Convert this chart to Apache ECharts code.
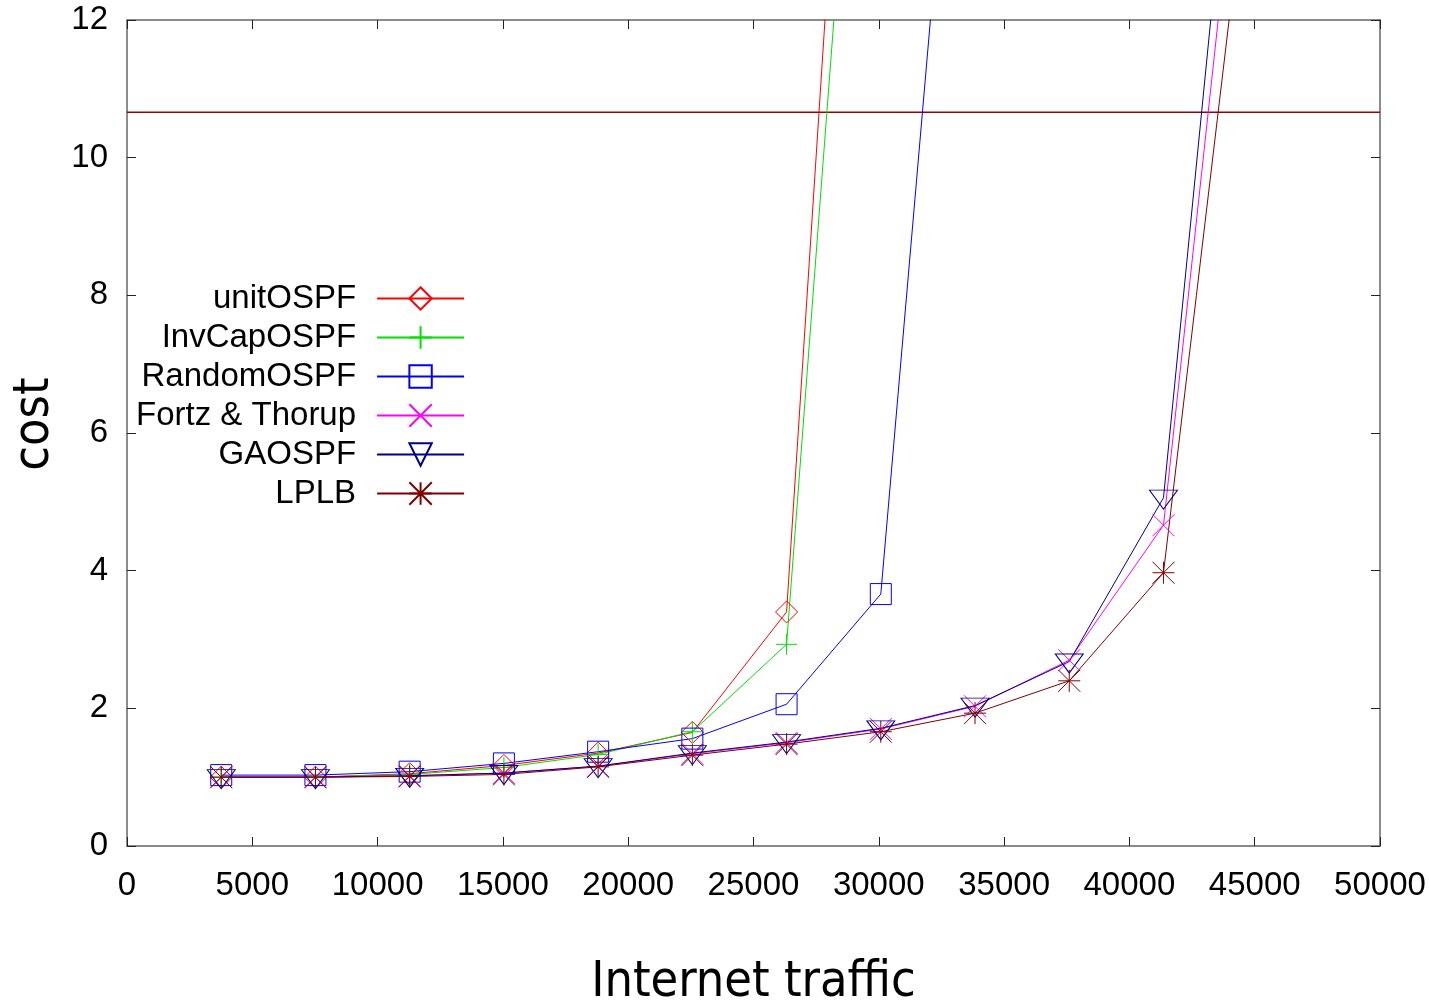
<!DOCTYPE html>
<html>
<head>
<meta charset="utf-8">
<script src="https://cdn.jsdelivr.net/npm/echarts@6/dist/echarts.min.js"></script>
<style>
  html, body { margin: 0; padding: 0; background: #fff; }
  #chart { width: 1429px; height: 1008px; }
</style>
</head>
<body>
<div id="chart"></div>
<script>
// traffic values on the x axis (one per measured point)
const traffic = [3760, 7520, 11280, 15040, 18800, 22560, 26320, 30080, 33840, 37600, 41360, 45120];

// cost per method (last value of each goes above the top of the plot)
const unitOSPF   = [1.00, 1.00, 1.05, 1.17, 1.35, 1.65, 3.40, 24.5];
const invCapOSPF = [1.00, 1.00, 1.04, 1.14, 1.33, 1.66, 2.93, 21.0];
const randomOSPF = [1.03, 1.03, 1.08, 1.20, 1.37, 1.56, 2.06, 3.66, 19.5];
const fortzThorup = [1.00, 1.00, 1.02, 1.06, 1.16, 1.34, 1.50, 1.70, 2.03, 2.70, 4.66, 17.3];
const gaOSPF     = [1.00, 1.00, 1.02, 1.06, 1.16, 1.35, 1.51, 1.71, 2.04, 2.68, 5.06, 18.9];
const lplb       = [1.00, 1.00, 1.01, 1.04, 1.15, 1.32, 1.48, 1.66, 1.93, 2.40, 3.97, 15.5];

// the horizontal reference level
const refLevel = 10.66;

const xTicks = { min: 0, max: 50000, step: 5000 };
const yTicks = { min: 0, max: 12, step: 2 };

function pairs(ys) {
  return ys.map((y, i) => [traffic[i], y]);
}

const PLUS = 'path://M0,5L10,5M5,0L5,10';
const CROSS = 'path://M0,0L10,10M0,10L10,0';
const STAR = 'path://M0,5L10,5M5,0L5,10M0,0L10,10M0,10L10,0';
const TRI_DOWN = 'path://M0,0L10,0L5,7Z';

function mkSeries(name, ys, color, symbol, size, offset) {
  return {
    name: name,
    type: 'line',
    data: pairs(ys),
    symbol: symbol,
    symbolSize: size,
    symbolOffset: offset || [0, 0],
    showSymbol: true,
    clip: true,
    lineStyle: { color: color, width: 1 },
    itemStyle: { color: 'transparent', borderColor: color, borderWidth: 1 },
    emphasis: { disabled: true },
    animation: false
  };
}

const axisFont = { fontFamily: 'Liberation Sans, Arial, sans-serif', fontSize: 33, color: '#000' };
const frame = { show: true, onZero: false, lineStyle: { color: '#666', width: 1.5 } };
const ticks = { show: true, inside: true, length: 9, lineStyle: { color: '#222', width: 1 } };
const titleFont = 'DejaVu Sans Condensed, DejaVu Sans, sans-serif';

const option = {
  backgroundColor: '#fff',
  animation: false,
  grid: { left: 127, right: 49, top: 20, bottom: 162, containLabel: false, outerBoundsMode: 'none' },
  legend: {
    orient: 'vertical',
    left: 131,
    top: 277,
    align: 'right',
    itemWidth: 87,
    itemHeight: 28,
    itemGap: 6,
    selectedMode: false,
    data: ['unitOSPF', 'InvCapOSPF', 'RandomOSPF', 'Fortz & Thorup', 'GAOSPF', 'LPLB'],
    textStyle: {
      fontFamily: 'Liberation Sans, Arial, sans-serif',
      fontSize: 33,
      color: '#000',
      lineHeight: 28,
      padding: [0, 16, 0, 0]
    }
  },
  xAxis: [
    {
      type: 'value',
      min: xTicks.min, max: xTicks.max, interval: xTicks.step,
      name: 'Internet traffic',
      nameLocation: 'middle',
      nameGap: 112,
      nameTextStyle: { fontFamily: titleFont, fontSize: 50, color: '#000' },
      axisLine: frame,
      axisTick: ticks,
      axisLabel: Object.assign({ margin: 23, formatter: v => String(v) }, axisFont),
      splitLine: { show: false }
    },
    {
      type: 'value', position: 'top',
      min: xTicks.min, max: xTicks.max, interval: xTicks.step,
      axisLine: frame, axisTick: ticks,
      axisLabel: { show: false }, splitLine: { show: false }
    }
  ],
  yAxis: [
    {
      type: 'value',
      min: yTicks.min, max: yTicks.max, interval: yTicks.step,
      name: 'cost',
      nameLocation: 'middle',
      nameGap: 66,
      nameRotate: 90,
      nameTextStyle: { fontFamily: titleFont, fontSize: 50, color: '#000', padding: [0, 0, 0, 18] },
      axisLine: frame,
      axisTick: ticks,
      axisLabel: Object.assign({ margin: 19 }, axisFont),
      splitLine: { show: false }
    },
    {
      type: 'value', position: 'right',
      min: yTicks.min, max: yTicks.max, interval: yTicks.step,
      axisLine: frame, axisTick: ticks,
      axisLabel: { show: false }, splitLine: { show: false }
    }
  ],
  series: [
    {
      name: 'level',
      type: 'line',
      data: [[xTicks.min, refLevel], [xTicks.max, refLevel]],
      symbol: 'none',
      lineStyle: { color: '#990000', width: 1.3 },
      emphasis: { disabled: true },
      animation: false
    },
    mkSeries('unitOSPF', unitOSPF, '#ff0000', 'diamond', 22),
    mkSeries('InvCapOSPF', invCapOSPF, '#00e000', PLUS, 21),
    mkSeries('RandomOSPF', randomOSPF, '#0000ff', 'rect', 21),
    mkSeries('Fortz & Thorup', fortzThorup, '#ff00ff', CROSS, 22),
    mkSeries('GAOSPF', gaOSPF, '#000090', TRI_DOWN, [28, 19], [0, 2]),
    mkSeries('LPLB', lplb, '#800000', STAR, 22)
  ]
};

const myChart = echarts.init(document.getElementById('chart'), null, { renderer: 'canvas' });
myChart.setOption(option);
</script>
</body>
</html>
